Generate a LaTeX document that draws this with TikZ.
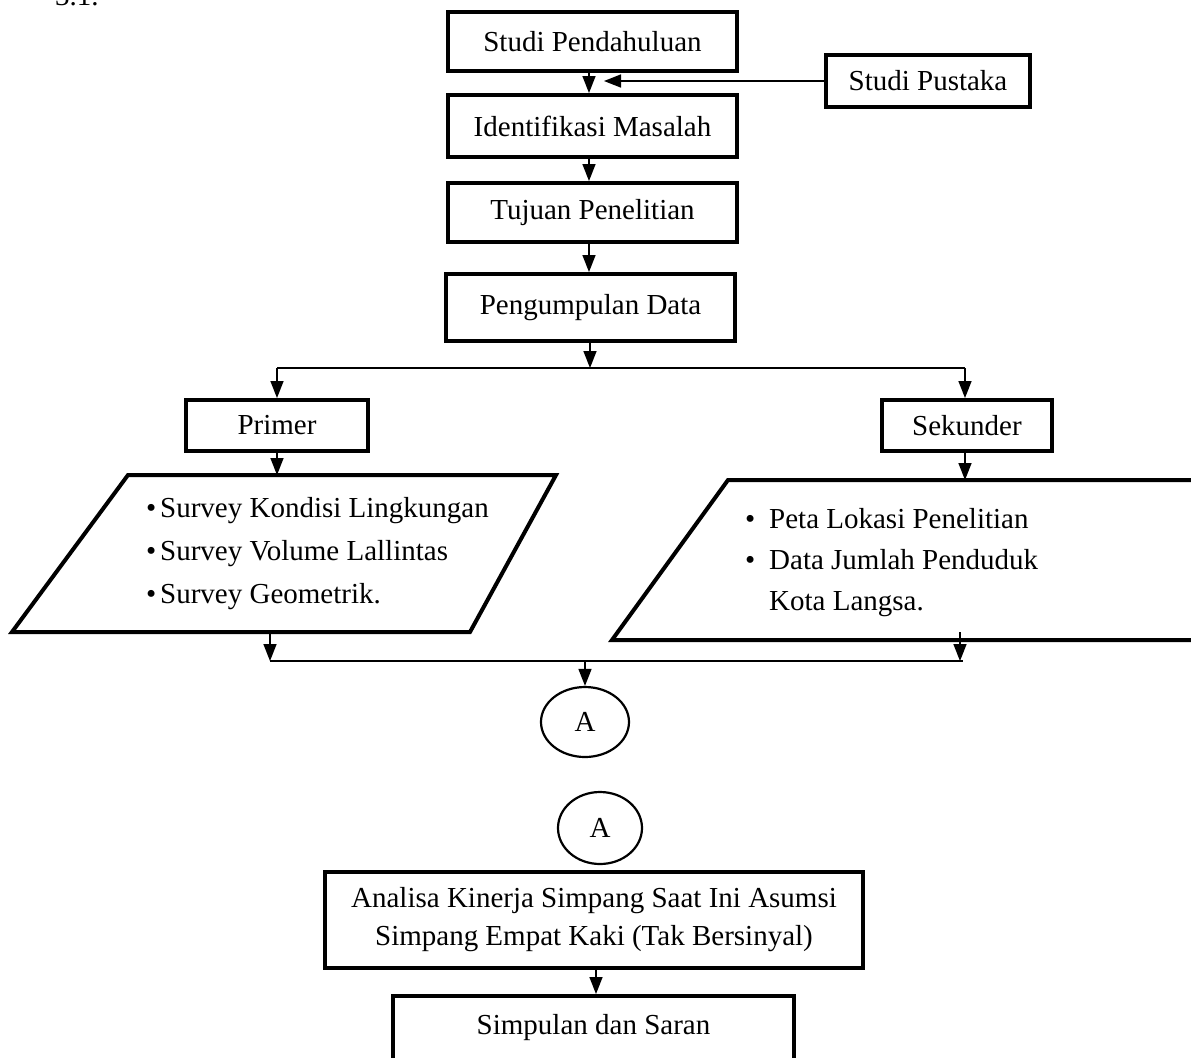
\documentclass[tikz,border=0pt]{standalone}
\usepackage{fontspec}
\setmainfont{Liberation Serif}
\usetikzlibrary{arrows.meta,shapes.geometric}
\begin{document}
\begin{tikzpicture}[x=0.5pt,y=-0.5pt,
  txt/.style={font=\fontsize{14.5}{17}\selectfont},
  box/.style={txt, draw, line width=2pt, rectangle, inner sep=0pt, align=center},
  conn/.style={line width=0.8pt, -{Triangle[width=6.5pt,length=8.5pt]}},
  plain/.style={line width=0.8pt},
  para/.style={draw, line width=2pt, line join=miter},
  conncirc/.style={txt, draw, ellipse, line width=1.1pt, inner sep=0pt}
]
\useasboundingbox (0,0) rectangle (1191,1057);
\clip (0,0) rectangle (1191,1057);
\fill[white] (0,0) rectangle (1191,1057);

\node[txt, anchor=base west] (fig) at (48,5) {3.1.};

% main boxes
\node[box, minimum width=144.5pt, minimum height=29.5pt] (b1) at (592.5,41.5) {Studi Pendahuluan};
\node[box, minimum width=102pt, minimum height=26pt] (sp) at (928,81) {Studi Pustaka};
\node[box, minimum width=144.5pt, minimum height=31pt] (b2) at (592.5,126) {Identifikasi Masalah};
\node[box, minimum width=144.5pt, minimum height=29.5pt] (b3) at (592.5,212.5) {Tujuan Penelitian};
\node[box, minimum width=144.5pt, minimum height=33.5pt] (b4) at (590.5,307.5) {Pengumpulan Data};
\node[box, minimum width=91pt, minimum height=25.5pt] (pr) at (277,425.5) {Primer};
\node[box, minimum width=85pt, minimum height=25.5pt] (sk) at (967,425.5) {Sekunder};

% parallelograms
\draw[para] (128,475) -- (556,475) -- (470,632) -- (12,632) -- cycle;
\draw[para] (728,480) -- (1310,480) -- (1194,640) -- (612,640) -- cycle;
\node[txt, anchor=west, align=left, font=\fontsize{14.5}{21.5}\selectfont] (lt) at (139,554)
  {\textbullet\kern2pt Survey Kondisi Lingkungan\\
   \textbullet\kern2pt Survey Volume Lallintas\\
   \textbullet\kern2pt Survey Geometrik.};
\node[txt, anchor=west, align=left, font=\fontsize{14.5}{20.5}\selectfont] (rt) at (738,563)
  {\textbullet\kern7pt Peta Lokasi Penelitian\\
   \textbullet\kern7pt Data Jumlah Penduduk\\
   \phantom{\textbullet}\kern7pt Kota Langsa.};

% connector circles
\node[conncirc, minimum width=44pt, minimum height=35pt] (a1) at (585,722) {A};
\node[conncirc, minimum width=42pt, minimum height=36pt] (a2) at (600,828) {A};

% lower boxes
\node[box, minimum width=269pt, minimum height=48pt] (an) at (594,920)
  {Analisa Kinerja Simpang Saat Ini Asumsi\\[2pt] Simpang Empat Kaki (Tak Bersinyal)};
\node[box, minimum width=200.5pt, minimum height=32pt] (sm) at (593.5,1028) {Simpulan dan Saran};

% coordinates
\coordinate (spend) at (604,81);
\coordinate (brC) at (590,368);
\coordinate (brL) at (277,368);
\coordinate (brR) at (965,368);
\coordinate (lpTop) at (277,475);
\coordinate (rpTop) at (965,480);
\coordinate (lpBot) at (270,632);
\coordinate (rpBot) at (960,632);
\coordinate (mgL) at (270,661);
\coordinate (mgR) at (960,661);
\coordinate (mgC) at (585,661);
\coordinate (mgEnd) at (963,661);

% connectors
\draw[conn] (b1.south -| 589,0) -- (b2.north -| 589,0);
\draw[conn] (sp.west) -- (spend);
\draw[conn] (b2.south -| 589,0) -- (b3.north -| 589,0);
\draw[conn] (b3.south -| 589,0) -- (b4.north -| 589,0);
\draw[conn] (b4.south -| brC) -- (brC);
\draw[plain] (brL) -- (brR);
\draw[conn] (brL) -- (pr.north);
\draw[conn] (brR) -- (brR |- sk.north);
\draw[conn] (pr.south) -- (lpTop);
\draw[conn] (sk.south -| rpTop) -- (rpTop);
\draw[conn] (lpBot) -- (mgL);
\draw[conn] (rpBot) -- (mgR);
\draw[plain] (mgL) -- (mgEnd);
\draw[conn] (mgC) -- (a1.north);
\draw[conn] (an.south -| 596,0) -- (sm.north -| 596,0);
\end{tikzpicture}
\end{document}
